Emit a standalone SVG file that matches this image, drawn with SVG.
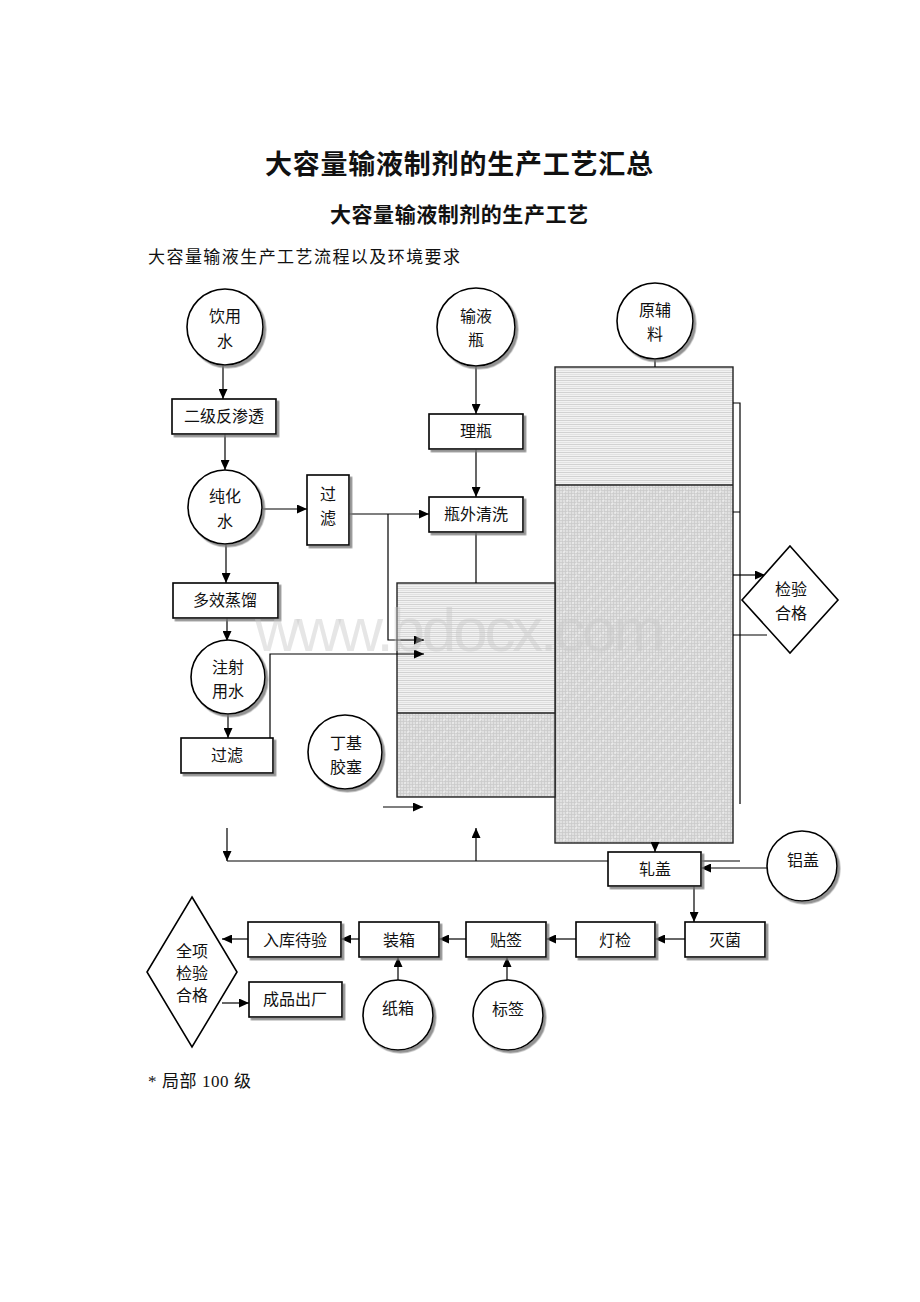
<svg xmlns="http://www.w3.org/2000/svg" width="920" height="1302" viewBox="0 0 920 1302">
<style>
.t{font-family:"Liberation Serif","Noto Sans CJK SC",serif;fill:#111;}
.n{font-size:16px;text-anchor:middle;}
.box{fill:#fff;stroke:#000;stroke-width:1.6;}
.circ{fill:#fff;stroke:#000;stroke-width:1.6;}
.c{fill:none;stroke:#000;stroke-width:1.2;}
.a{marker-end:url(#ah);}
</style>
<defs>
<marker id="ah" markerUnits="userSpaceOnUse" markerWidth="10" markerHeight="9" refX="10" refY="4.5" orient="auto">
<path d="M0,0 L10,4.5 L0,9 z" fill="#000"/>
</marker>
<filter id="sh" x="-10%" y="-10%" width="130%" height="130%">
<feDropShadow dx="2.5" dy="2.5" stdDeviation="0.6" flood-color="#777" flood-opacity="0.8"/>
</filter>
<pattern id="hs" width="6" height="4" patternUnits="userSpaceOnUse">
<rect width="6" height="4" fill="#f2f2f2"/>
<line x1="0" y1="0.5" x2="6" y2="0.5" stroke="#d2d2d2" stroke-width="1"/>
<line x1="0" y1="2.5" x2="6" y2="2.5" stroke="#e2e2e2" stroke-width="1"/>
</pattern>
<pattern id="xh" width="12" height="12" patternUnits="userSpaceOnUse">
<rect width="12" height="12" fill="#e0e0e0"/>
<path d="M0,1.5 H12 M0,4.5 H12 M0,7.5 H12 M0,10.5 H12 M1.5,0 V12 M4.5,0 V12 M7.5,0 V12 M10.5,0 V12" stroke="#cacaca" stroke-width="0.8"/>
<path d="M-3,15 L15,-3 M-3,3 L3,-3 M9,15 L15,9" stroke="#ebebeb" stroke-width="1.6" stroke-dasharray="2 2"/>
</pattern>
</defs>
<rect width="920" height="1302" fill="#fff"/>

<text class="t" x="459" y="174" font-size="27" font-weight="bold" text-anchor="middle" textLength="388">大容量输液制剂的生产工艺汇总</text>
<text class="t" x="459" y="222" font-size="21" font-weight="bold" text-anchor="middle" textLength="258">大容量输液制剂的生产工艺</text>
<text class="t" x="148" y="263" font-size="17" textLength="312">大容量输液生产工艺流程以及环境要求</text>

<g id="room-right">
<rect x="555" y="367" width="178" height="118" fill="url(#hs)"/>
<rect x="555" y="485" width="178" height="358" fill="url(#xh)"/>
<rect x="555" y="367" width="178" height="476" fill="none" stroke="#222" stroke-width="1.4"/>
<line x1="555" y1="485" x2="733" y2="485" stroke="#222" stroke-width="1.4"/>
</g>
<g id="room-left">
<rect x="397" y="583" width="158" height="130" fill="url(#hs)"/>
<rect x="397" y="713" width="158" height="84" fill="url(#xh)"/>
<rect x="397" y="583" width="158" height="214" fill="none" stroke="#222" stroke-width="1.4"/>
<line x1="397" y1="713" x2="555" y2="713" stroke="#222" stroke-width="1.4"/>
</g>

<g id="connectors">
<path class="c a" d="M223,365 V399"/>
<path class="c a" d="M225,434 V470"/>
<path class="c a" d="M263,509 H307"/>
<path class="c a" d="M349,514 H429"/>
<path class="c a" d="M388,514 V640 H424"/>
<path class="c a" d="M226,543 V583"/>
<path class="c a" d="M227,618 V641"/>
<path class="c a" d="M228,713 V738"/>
<path class="c a" d="M270,738 V654 H424"/>
<path class="c a" d="M476,366 V414"/>
<path class="c a" d="M476,449 V497"/>
<path class="c" d="M476,532 V583"/>
<path class="c" d="M655,360 V367"/>
<path class="c a" d="M383,807 H423"/>
<path class="c a" d="M227,828 V861"/>
<path class="c" d="M227,861 H608"/>
<path class="c a" d="M476,861 V828"/>
<path class="c" d="M702,861 H740"/>
<path class="c a" d="M655,843 V852"/>
<path class="c a" d="M767,868 H701"/>
<path class="c a" d="M694,886 V922"/>
<path class="c a" d="M685,939 H655"/>
<path class="c a" d="M576,939 H546"/>
<path class="c a" d="M507,982 V957"/>
<path class="c a" d="M466,939 H439"/>
<path class="c a" d="M398,982 V957"/>
<path class="c a" d="M359,939 H341"/>
<path class="c a" d="M248,939 H222"/>
<path class="c a" d="M222,1003 H249"/>
<path class="c" d="M733,403 H740 V804 M733,512 H740 M733,635 H767"/>
<path class="c a" d="M733,575 H765"/>
</g>

<g id="n-yinyongshui"><circle class="circ" filter="url(#sh)" cx="225" cy="327" r="38"/><text class="t n" x="225" y="322">饮用</text><text class="t n" x="225" y="347">水</text></g>
<g id="n-erji"><rect class="box" filter="url(#sh)" x="172" y="399" width="104" height="35"/><text class="t n" x="224" y="422">二级反渗透</text></g>
<g id="n-chunhuashui"><circle class="circ" filter="url(#sh)" cx="225" cy="507" r="37"/><text class="t n" x="225" y="502">纯化</text><text class="t n" x="225" y="527">水</text></g>
<g id="n-guolv1"><rect class="box" filter="url(#sh)" x="307" y="475" width="42" height="70"/><text class="t n" x="328" y="500">过</text><text class="t n" x="328" y="524">滤</text></g>
<g id="n-duoxiao"><rect class="box" filter="url(#sh)" x="173" y="583" width="105" height="35"/><text class="t n" x="225" y="606">多效蒸馏</text></g>
<g id="n-zhushe"><circle class="circ" filter="url(#sh)" cx="228" cy="677" r="37"/><text class="t n" x="228" y="673">注射</text><text class="t n" x="228" y="697">用水</text></g>
<g id="n-guolv2"><rect class="box" filter="url(#sh)" x="181" y="738" width="92" height="35"/><text class="t n" x="227" y="761">过滤</text></g>
<g id="n-dingji"><circle class="circ" filter="url(#sh)" cx="345" cy="752" r="37"/><text class="t n" x="346" y="749">丁基</text><text class="t n" x="346" y="773">胶塞</text></g>
<g id="n-shuyeping"><circle class="circ" filter="url(#sh)" cx="476" cy="327" r="39"/><text class="t n" x="476" y="322">输液</text><text class="t n" x="476" y="346">瓶</text></g>
<g id="n-liping"><rect class="box" filter="url(#sh)" x="429" y="414" width="94" height="35"/><text class="t n" x="476" y="437">理瓶</text></g>
<g id="n-pingwai"><rect class="box" filter="url(#sh)" x="429" y="497" width="94" height="35"/><text class="t n" x="476" y="520">瓶外清洗</text></g>
<g id="n-yuanfuliao"><circle class="circ" filter="url(#sh)" cx="655" cy="321" r="38"/><text class="t n" x="655" y="316">原辅</text><text class="t n" x="655" y="340">料</text></g>
<g id="n-jianyan"><polygon points="790,546 838,600 790,653 742,600" fill="#fff" stroke="#000" stroke-width="1.6"/><text class="t n" x="791" y="595">检验</text><text class="t n" x="791" y="619">合格</text></g>
<g id="n-zhagai"><rect class="box" filter="url(#sh)" x="608" y="852" width="93" height="34"/><text class="t n" x="655" y="875">轧盖</text></g>
<g id="n-lvgai"><circle class="circ" filter="url(#sh)" cx="802" cy="866" r="35"/><text class="t n" x="803" y="866">铝盖</text></g>
<g id="n-miejun"><rect class="box" filter="url(#sh)" x="685" y="922" width="80" height="35"/><text class="t n" x="725" y="946">灭菌</text></g>
<g id="n-dengjian"><rect class="box" filter="url(#sh)" x="576" y="922" width="79" height="35"/><text class="t n" x="615" y="946">灯检</text></g>
<g id="n-tieqian"><rect class="box" filter="url(#sh)" x="466" y="922" width="80" height="35"/><text class="t n" x="506" y="946">贴签</text></g>
<g id="n-biaoqian"><circle class="circ" filter="url(#sh)" cx="508" cy="1015" r="35"/><text class="t n" x="508" y="1015">标签</text></g>
<g id="n-zhuangxiang"><rect class="box" filter="url(#sh)" x="359" y="922" width="80" height="35"/><text class="t n" x="399" y="946">装箱</text></g>
<g id="n-zhixiang"><circle class="circ" filter="url(#sh)" cx="398" cy="1015" r="35"/><text class="t n" x="398" y="1014">纸箱</text></g>
<g id="n-ruku"><rect class="box" filter="url(#sh)" x="248" y="922" width="93" height="35"/><text class="t n" x="295" y="946">入库待验</text></g>
<g id="n-quanxiang"><polygon points="192,897 237,972 192,1047 147,972" fill="#fff" stroke="#000" stroke-width="1.6"/><text class="t n" x="192" y="957">全项</text><text class="t n" x="192" y="979">检验</text><text class="t n" x="192" y="1001">合格</text></g>
<g id="n-chengpin"><rect class="box" filter="url(#sh)" x="249" y="982" width="93" height="35"/><text class="t n" x="295" y="1005">成品出厂</text></g>

<text x="460" y="651" font-family="Liberation Sans,sans-serif" font-size="62" fill="#c8c8c8" fill-opacity="0.45" text-anchor="middle" textLength="410">www.bdocx.com</text>

<text class="t" x="148" y="1087" font-size="17" textLength="103">* 局部 100 级</text>
</svg>
